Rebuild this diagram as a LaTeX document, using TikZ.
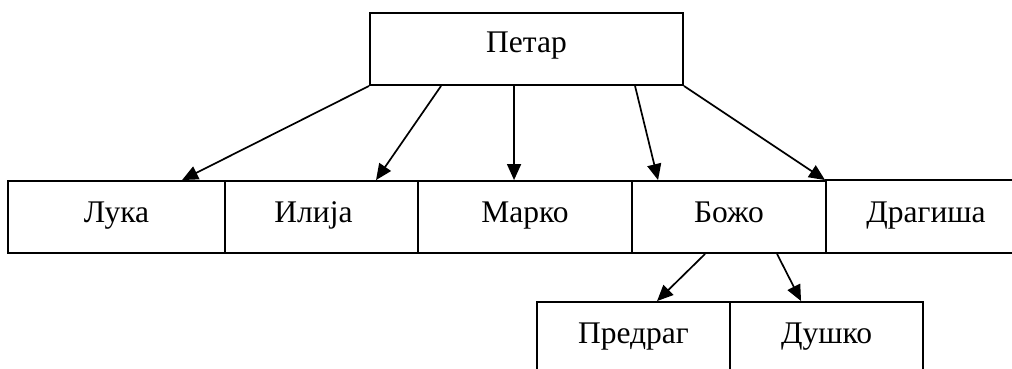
\documentclass[tikz,border=0pt]{standalone}
\usepackage{fontspec}
\setmainfont{Liberation Serif}
\usetikzlibrary{arrows.meta}
\begin{document}
\begin{tikzpicture}[x=1pt,y=-1pt,
  box/.style={draw, line width=1.9pt, minimum height=72pt, inner sep=0pt,
    text height=41pt, text depth=31pt, font=\fontsize{31.5}{31.5}\selectfont},
  openbox/.style={box, draw=none},
  link/.style={line width=1.7pt, -{Triangle[length=16pt,width=14pt]}}]
\useasboundingbox (0,0) rectangle (1012,368);
\node[box, minimum width=313pt, text height=39pt, text depth=33pt] (petar) at (526.5,49) {Петар};
\node[box, minimum width=217pt] (luka) at (116.5,217) {Лука};
\node[box, minimum width=193pt] (ilija) at (321.5,217) {\hspace*{-16pt}Илија};
\node[box, minimum width=214pt] (marko) at (525,217) {Марко};
\node[box, minimum width=194pt] (bozo) at (729,217) {Божо};
\node[openbox, minimum width=200pt] (dragisa) at (926,217) {Драгиша};
\draw[line width=1.9pt] (dragisa.north west) -- (dragisa.north east);
\draw[line width=1.9pt] ([yshift=1pt]dragisa.south west) -- ([yshift=1pt]dragisa.south east);
\node[box, minimum width=193pt] (predrag) at (633.5,338) {Предраг};
\node[box, minimum width=193pt] (dusko) at (826.5,338) {Душко};
\draw[link] (petar.south west) -- ([xshift=175pt]luka.north west);
\draw[link] ([xshift=72pt]petar.south west) -- ([xshift=152pt]ilija.north west);
\draw[link] ([xshift=145pt]petar.south west) -- ([xshift=97pt]marko.north west);
\draw[link] ([xshift=266pt]petar.south west) -- ([xshift=27pt]bozo.north west);
\draw[link] (petar.south east) -- (dragisa.north west);
\draw[link] ([xshift=74pt]bozo.south west) -- ([xshift=121pt]predrag.north west);
\draw[link] ([xshift=146pt]bozo.south west) -- ([xshift=72pt]dusko.north west);
\end{tikzpicture}
\end{document}
